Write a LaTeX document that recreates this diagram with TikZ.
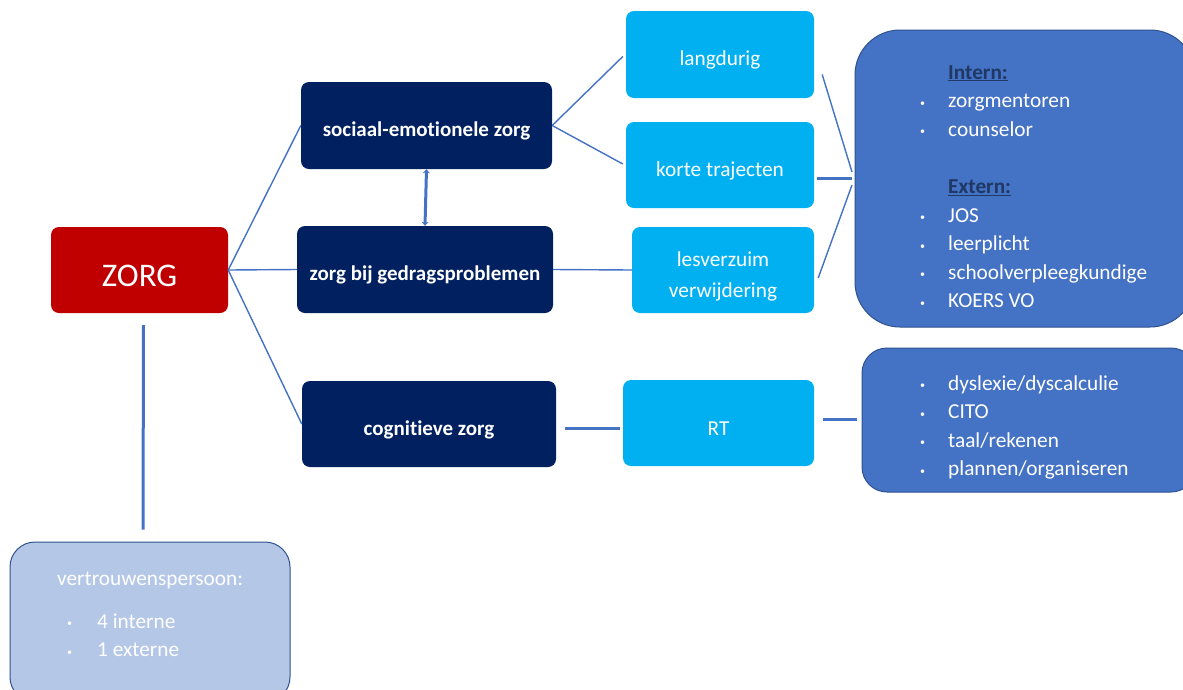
\documentclass[tikz,border=0pt]{standalone}
\usepackage{fontspec}
\setmainfont{Carlito}[Ligatures={NoCommon}]
\usetikzlibrary{arrows.meta,calc}
\definecolor{zred}{HTML}{C00000}
\definecolor{navy}{HTML}{002060}
\definecolor{lblue}{HTML}{00B0F0}
\definecolor{mblue}{HTML}{4472C4}
\definecolor{mborder}{HTML}{2F528F}
\definecolor{pale}{HTML}{B4C7E7}
\definecolor{hdr}{HTML}{1F3864}
\newcommand{\bul}{\makebox[28pt][l]{\raisebox{1.5pt}{\fontsize{10}{10}\selectfont•}}}
\newcommand{\dn}[1]{\raisebox{-5.5pt}[\height][\depth]{#1}}
\tikzset{
  box/.style={rounded corners=8pt,inner sep=0pt,text=white,align=center,font=\fontsize{21.3}{31.5}\selectfont},
  navybox/.style={box,fill=navy,font=\fontsize{21}{30}\selectfont\bfseries},
  lbbox/.style={box,fill=lblue},
  conn/.style={draw=mblue,line width=1.4pt},
  thick conn/.style={draw=mblue,line width=3pt},
  listtext/.style={text=white,inner sep=0pt,anchor=base west,font=\fontsize{21.3}{28.6}\selectfont},
}
\begin{document}
\begin{tikzpicture}[x=1pt,y=-1pt]
\useasboundingbox[fill=white] (0,0) rectangle (1183,689);
% main boxes
\node[box,fill=zred,minimum width=177pt,minimum height=86pt,font=\fontsize{33}{34}\selectfont] (zorg) at (139.5,270) {\dn{ZORG}};
\node[navybox,minimum width=251pt,minimum height=87pt] (soc) at (426.5,125.5) {\dn{sociaal-emotionele zorg}};
\node[navybox,minimum width=256pt,minimum height=87pt] (ged) at (425,269.5) {\dn{zorg bij gedragsproblemen}};
\node[navybox,minimum width=254pt,minimum height=86pt] (cog) at (429,424) {\dn{cognitieve zorg}};
\node[lbbox,minimum width=188pt,minimum height=87pt] (lang) at (720,54.5) {\dn{langdurig}};
\node[lbbox,minimum width=188pt,minimum height=86pt] (kort) at (720,165) {\dn{korte trajecten}};
\node[lbbox,minimum width=182pt,minimum height=86pt] (les) at (723,270) {\dn{\begin{tabular}{@{}c@{}}lesverzuim\\verwijdering\end{tabular}}};
\node[lbbox,minimum width=191pt,minimum height=86pt] (rt) at (718.5,423) {\dn{RT}};
% right boxes
\node[draw=mborder,line width=1pt,fill=mblue,rounded corners=45pt,minimum width=340pt,minimum height=297pt,inner sep=0pt] (ext) at (1025,178.5) {};
\node[draw=mborder,line width=1pt,fill=mblue,rounded corners=25pt,minimum width=334pt,minimum height=144pt,inner sep=0pt] (rtl) at (1029,420) {};
\node[draw=mborder,line width=1pt,fill=pale,rounded corners=25pt,minimum width=280pt,minimum height=160pt,inner sep=0pt] (vp) at (150,622) {};
% list texts
\node[listtext] (extlist) at (920,79) {\begin{tabular}[t]{@{}l@{}}
\hspace*{28pt}{\color{hdr}\bfseries\underline{Intern:}}\\
\bul zorgmentoren\\
\bul counselor\\[28.6pt]
\hspace*{28pt}{\color{hdr}\bfseries\underline{Extern:}}\\
\bul JOS\\
\bul leerplicht\\
\bul schoolverpleegkundige\\
\bul KOERS VO\end{tabular}};
\node[listtext] (rtlist) at (920,390) {\begin{tabular}[t]{@{}l@{}}
\bul dyslexie/dyscalculie\\
\bul CITO\\
\bul taal/rekenen\\
\bul plannen/organiseren\end{tabular}};
\node[listtext] (vptitle) at (57,585) {vertrouwenspersoon:};
\node[listtext] (vplist) at (67,628) {\begin{tabular}[t]{@{}l@{}}
\makebox[30pt][l]{\raisebox{1.5pt}{\fontsize{10}{10}\selectfont•}}4 interne\\
\makebox[30pt][l]{\raisebox{1.5pt}{\fontsize{10}{10}\selectfont•}}1 externe\end{tabular}};
% connectors
\draw[conn] (zorg.east) -- (soc.west);
\draw[conn] (zorg.east) -- (ged.west);
\draw[conn] (zorg.east) -- (cog.west);
\draw[conn] (soc.east) -- ($(lang.west)+(-3,2)$);
\draw[conn] (soc.east) -- ($(kort.west)+(-3,-1)$);
\draw[conn] (ged.east) -- (les.west);
\draw[thick conn,{Stealth[length=4pt,width=7pt]}-{Stealth[length=4pt,width=7pt]}] (soc.south) -- (ged.north);
\coordinate (h1) at (852,172);
\coordinate (h2) at (852,178);
\coordinate (h3) at (852,185);
\draw[conn] ($(lang.east)+(8,20)$) -- (h1);
\draw[thick conn] ($(kort.east)+(3,13)$) -- (h2);
\draw[conn] ($(les.east)+(4,8)$) -- (h3);
\draw[thick conn] ($(cog.east)+(9,4)$) -- ($(rt.west)+(-3,5)$);
\draw[thick conn] ($(rt.east)+(9,-4)$) -- ($(rtl.west)+(-5,-1)$);
\draw[thick conn] ($(zorg.south)+(4,12)$) -- ($(vp.north)+(-7,-12)$);
\end{tikzpicture}
\end{document}
